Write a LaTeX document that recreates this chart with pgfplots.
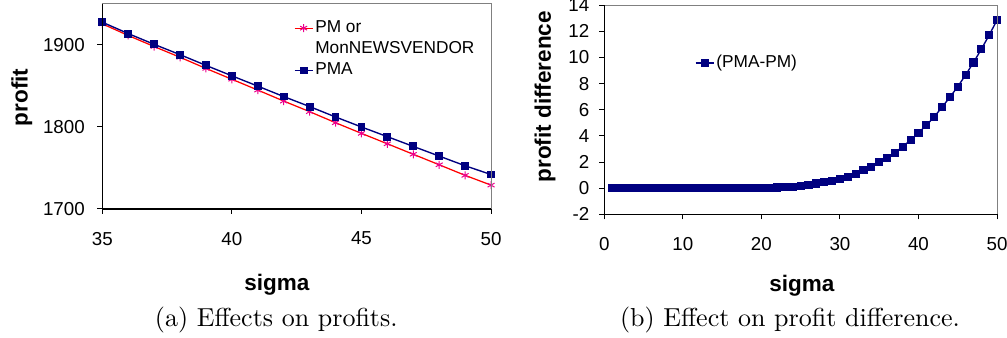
\documentclass[border=0pt]{standalone}
\usepackage{pgfplots}
\pgfplotsset{compat=1.18}
\usepackage{fontspec}
\newfontfamily\arial{Liberation Sans}
\definecolor{navy}{RGB}{0,0,128}
\definecolor{borderg}{RGB}{128,128,128}
\pgfplotsset{
  excel/.style={
    scale only axis,
    axis line style={draw=none},
    tick align=outside,
    major tick length=2pt,
    tick style={black,line width=0.4pt},
    xtick pos=bottom, ytick pos=left,
    minor tick num=0,
    ticklabel style={font=\arial\fontsize{7.5}{8}\selectfont},
    xticklabel style={yshift=-3.7pt},
    /pgf/number format/assume math mode=true,
    /pgf/number format/1000 sep={},
    label style={font=\arial\bfseries\fontsize{9}{10}\selectfont},
    legend style={draw=none,fill=none,font=\arial\fontsize{6.9}{7.5}\selectfont,
      cells={anchor=west}, row sep=0.6pt, inner sep=0pt, outer sep=0pt,
      nodes={inner sep=0.8pt}},
    legend image code/.code={
      \draw[mark repeat=2,mark phase=2,##1] plot coordinates {(0pt,0pt)(3.6pt,0pt)(7.2pt,0pt)};
    },
    clip=false,
    after end axis/.code={
      \draw[borderg,line width=0.4pt] (rel axis cs:0,1) -- (rel axis cs:1,1) -- (rel axis cs:1,0);
      \draw[black,line width=0.45pt] (rel axis cs:0,1) -- (rel axis cs:0,0) -- (rel axis cs:1,0);
    },
  }
}
\begin{document}
\begin{tikzpicture}
\useasboundingbox (0,0) rectangle (402.8pt,135.2pt);
% (a)
\begin{axis}[excel,
  at={(40.92pt,51.6pt)}, anchor=south west,
  width=155.5pt, height=82pt,
  xmin=35, xmax=50, ymin=1700, ymax=1950,
  xtick={35,40,45,50}, ytick={1700,1800,1900},
  yticklabel style={xshift=-1.5pt},
  xlabel={sigma}, ylabel={profit},
  xlabel style={at={(axis description cs:0.449,-0.37)},anchor=center},
  ylabel style={at={(axis description cs:-0.207,0.544)},anchor=center,rotate=0},
  legend style={at={(axis description cs:0.493,0.93)},anchor=north west},
]
\addplot[red,line width=0.5pt,mark=asterisk,mark size=1.6pt,mark options={magenta,line width=0.4pt}] coordinates {
(35,1925.8)(36,1911.6)(37,1898.1)(38,1885.0)(39,1871.4)(40,1858.2)(41,1845.0)(42,1831.6)
(43,1818.7)(44,1805.2)(45,1792.2)(46,1779.5)(47,1766.7)(48,1753.9)(49,1741.0)(50,1729.1)};
\addlegendentry{PM or}
\addlegendimage{empty legend}
\addlegendentry{MonNEWSVENDOR}
\addplot[navy,line width=0.55pt,mark=square*,mark size=1.3pt,mark options={navy}] coordinates {
(35,1927.8)(36,1913.9)(37,1900.8)(38,1888.2)(39,1875.1)(40,1862.4)(41,1849.8)(42,1837.1)
(43,1824.9)(44,1812.2)(45,1800.0)(46,1788.2)(47,1776.3)(48,1764.5)(49,1752.7)(50,1742.0)};
\addlegendentry{PMA}
\end{axis}
% (b)
\begin{axis}[excel,
  at={(241.72pt,49.48pt)}, anchor=south west,
  width=157.1pt, height=83.6pt,
  xmin=0, xmax=50, ymin=-2, ymax=14,
  xtick={0,10,20,30,40,50}, ytick={-2,0,2,4,6,8,10,12,14},
  yticklabel style={xshift=-0.5pt},
  xlabel={sigma}, ylabel={profit difference},
  xlabel style={at={(axis description cs:0.503,-0.34)},anchor=center},
  ylabel style={at={(axis description cs:-0.151,0.563)},anchor=center,rotate=0},
  legend style={at={(axis description cs:0.231,0.724)},anchor=west},
]
\addplot[navy,line width=0.55pt,mark=square*,mark size=1.35pt,mark options={navy}] coordinates {
(1,0)(2,0)(3,0)(4,0)(5,0)(6,0)(7,0)(8,0)(9,0)(10,0)
(11,0)(12,0)(13,0)(14,0)(15,0)(16,0)(17,0)(18,0)(19,0)(20,0.01)
(21,0.03)(22,0.05)(23,0.07)(24,0.1)(25,0.16)(26,0.25)(27,0.36)(28,0.44)(29,0.56)(30,0.72)
(31,0.88)(32,1.1)(33,1.38)(34,1.64)(35,1.97)(36,2.33)(37,2.72)(38,3.18)(39,3.69)(40,4.23)
(41,4.82)(42,5.46)(43,6.2)(44,6.97)(45,7.77)(46,8.67)(47,9.62)(48,10.64)(49,11.72)(50,12.87)};
\addlegendentry{(PMA-PM)}
\end{axis}
\node[anchor=base,font=\fontsize{10.4}{12}\selectfont] at (110.5pt,4.6pt) {(a) Effects on profits.};
\node[anchor=base,font=\fontsize{10.4}{12}\selectfont] at (316pt,4.6pt) {(b) Effect on profit difference.};
\end{tikzpicture}
\end{document}
